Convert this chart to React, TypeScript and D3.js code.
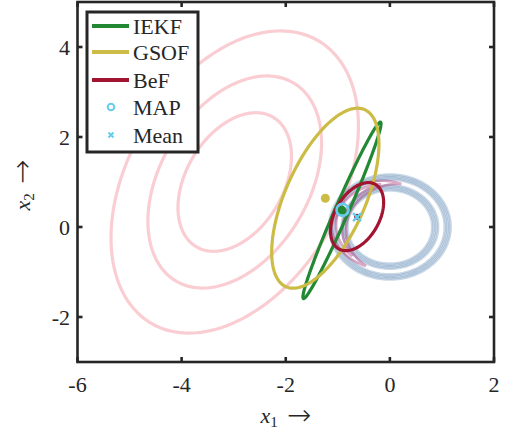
import * as d3 from "d3";

// axis ticks
const xTicks = [-6, -4, -2, 0, 2];
const yTicks = [-2, 0, 2, 4];

// prior contours (gaussian): center, std devs, correlation, mahalanobis levels
const priorMean = [-2.98, 1.0];
const priorStd = [1.09, 1.54];
const priorRho = 0.37;
const priorLevels = [1, 1.53, 2.18];

// range likelihood rings around origin
const ringRadii = [0.87, 1.11];
const ringOffsets = [-0.06, -0.03, 0, 0.03, 0.06];

// posterior crescent contours: radius, width, start / end angle (deg)
const crescentRadius = [0.98, 0.97];
const crescentWidth = [0.3, 0.14];
const crescentFrom = [77, 100];
const crescentTo = [242, 222];

// filter estimates
const filterNames = ["IEKF", "GSOF", "BeF"];
const filterColors = ["#228833", "#CCBB44", "#A2142F"];
const filterMeans = [[-0.92, 0.37], [-1.24, 0.64], [-0.63, 0.23]];
const filterStd = [[0.75, 1.96], [1.03, 2.0], [0.51, 0.756]];
const filterRho = [0.982, 0.6, 0.42];

const mapPoint = [-0.91, 0.38];
const meanPoint = [-0.63, 0.22];

const W = 505, H = 436;
const x = d3.scaleLinear().domain([-6, 2]).range([77.5, 494]);
const y = d3.scaleLinear().domain([-3, 5]).range([362, 2]);

const font = "'Liberation Serif', 'Times New Roman', serif";
const arrowFont = "'DejaVu Sans', sans-serif";
const ink = "#262626";

function ellipse(m: number[], s: number[], rho: number, r: number) {
  const pts: [number, number][] = d3.range(0, 361, 2).map(a => {
    const t = (a * Math.PI) / 180;
    const u = Math.cos(t), v = Math.sin(t);
    return [
      m[0] + r * s[0] * u,
      m[1] + r * (rho * s[1] * u + s[1] * Math.sqrt(1 - rho * rho) * v),
    ];
  });
  return d3.line<[number, number]>().x(d => x(d[0])).y(d => y(d[1])).curve(d3.curveLinearClosed)(pts) || "";
}

function crescent(R: number, w: number, a0: number, a1: number) {
  const steps = d3.range(0, 61).map(i => a0 + ((a1 - a0) * i) / 60);
  const half = (a: number) => (w / 2) * Math.sin((Math.PI * (a - a0)) / (a1 - a0));
  const outer = steps.map(a => {
    const t = (a * Math.PI) / 180, rr = R + half(a);
    return [rr * Math.cos(t), rr * Math.sin(t)] as [number, number];
  });
  const inner = steps.slice().reverse().map(a => {
    const t = (a * Math.PI) / 180, rr = R - half(a);
    return [rr * Math.cos(t), rr * Math.sin(t)] as [number, number];
  });
  return d3.line<[number, number]>().x(d => x(d[0])).y(d => y(d[1])).curve(d3.curveLinearClosed)([...outer, ...inner]) || "";
}

export default function App() {
  const [x0, x1] = x.range();
  const [y0, y1] = y.range();
  const cross = (cx: number, cy: number, s: number) => `M${cx - s},${cy - s}L${cx + s},${cy + s}M${cx - s},${cy + s}L${cx + s},${cy - s}`;
  const legendRows = [26, 52, 80, 107, 135];

  return (
    <svg width={W} height={H} style={{ position: "absolute", left: 0, top: 0 }} fontFamily={font}>
      <defs>
        <clipPath id="plot">
          <rect x={x0} y={y1} width={x1 - x0} height={y0 - y1} />
        </clipPath>
      </defs>
      <rect width={W} height={H} fill="#fff" />
      <g clipPath="url(#plot)" fill="none">
        {priorLevels.map((r, i) => (
          <path key={"p" + i} d={ellipse(priorMean, priorStd, priorRho, r)} stroke="#EE6677" strokeOpacity={0.33} strokeWidth={3.2} />
        ))}
        {ringRadii.map((R, i) =>
          ringOffsets.map((o, j) => (
            <path key={`rp${i}-${j}`} d={ellipse([0, 0], [R + o, R + o], 0, 1)} stroke="#4477AA" strokeOpacity={0.28} strokeWidth={2.3} />
          ))
        )}
        {crescentRadius.map((R, i) => (
          <path key={"c" + i} d={crescent(R, crescentWidth[i], crescentFrom[i], crescentTo[i])} stroke="#AA3377" strokeOpacity={0.42} strokeWidth={2.6} />
        ))}
        {filterNames.map((n, i) => (
          <path key={n} d={ellipse(filterMeans[i], filterStd[i], filterRho[i], 1)} stroke={filterColors[i]} strokeWidth={3.2} />
        ))}
        <circle cx={x(filterMeans[1][0])} cy={y(filterMeans[1][1])} r={4.5} fill={filterColors[1]} />
        <circle cx={x(filterMeans[0][0])} cy={y(filterMeans[0][1])} r={4.5} fill={filterColors[0]} />
        <circle cx={x(mapPoint[0])} cy={y(mapPoint[1])} r={6} stroke="#66CCEE" strokeWidth={2.6} />
        <circle cx={x(filterMeans[2][0])} cy={y(filterMeans[2][1])} r={3} fill={filterColors[2]} />
        <path d={cross(x(meanPoint[0]), y(meanPoint[1]), 4)} stroke="#66CCEE" strokeWidth={2.5} />
      </g>

      {/* frame and ticks */}
      <rect x={x0} y={y1} width={x1 - x0} height={y0 - y1} fill="none" stroke={ink} strokeWidth={2.6} />
      {xTicks.map(t => (
        <g key={"xt" + t} stroke={ink} strokeWidth={2.6}>
          <line x1={x(t)} x2={x(t)} y1={y0} y2={y0 - 5} />
          <line x1={x(t)} x2={x(t)} y1={y1} y2={y1 + 5} />
        </g>
      ))}
      {yTicks.map(t => (
        <g key={"yt" + t} stroke={ink} strokeWidth={2.6}>
          <line x1={x0} x2={x0 + 5} y1={y(t)} y2={y(t)} />
          <line x1={x1} x2={x1 - 5} y1={y(t)} y2={y(t)} />
        </g>
      ))}
      {xTicks.map(t => (
        <text key={"xl" + t} x={x(t)} y={392} textAnchor="middle" fontSize={22} fill={ink}>{t}</text>
      ))}
      {yTicks.map(t => (
        <text key={"yl" + t} x={70} y={y(t) + 7.5} textAnchor="end" fontSize={22} fill={ink}>{t}</text>
      ))}
      <text x={286} y={423} textAnchor="middle" fontSize={22} fill={ink}>
        <tspan fontStyle="italic">x</tspan>
        <tspan fontSize={15} dy={4}>1</tspan>
        <tspan dy={-2} fontFamily={arrowFont} fontSize={29} fontWeight={200}> →</tspan>
      </text>
      <text transform={`translate(30,${185}) rotate(-90)`} textAnchor="middle" fontSize={22} fill={ink}>
        <tspan fontStyle="italic">x</tspan>
        <tspan fontSize={15} dy={4}>2</tspan>
        <tspan dy={-2} fontFamily={arrowFont} fontSize={29} fontWeight={200}> →</tspan>
      </text>

      {/* legend */}
      <rect x={87} y={12} width={111} height={140} fill="#fff" stroke={ink} strokeWidth={3} />
      {filterNames.map((n, i) => (
        <line key={"ll" + n} x1={92} x2={129} y1={legendRows[i]} y2={legendRows[i]} stroke={filterColors[i]} strokeWidth={4} />
      ))}
      <circle cx={111} cy={legendRows[3]} r={3.3} fill="none" stroke="#66CCEE" strokeWidth={2} />
      <path d={cross(111, legendRows[4], 2.5)} stroke="#66CCEE" strokeWidth={2} />
      {[...filterNames, "MAP", "Mean"].map((n, i) => (
        <text key={"lt" + n} x={133} y={legendRows[i] + 7.5} fontSize={22} fill={ink}>{n}</text>
      ))}
    </svg>
  );
}
